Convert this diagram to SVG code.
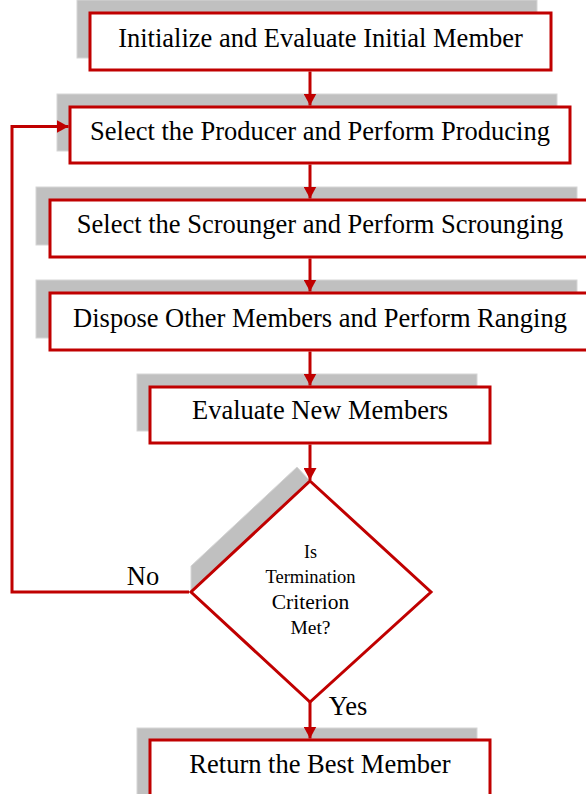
<svg xmlns="http://www.w3.org/2000/svg" width="586" height="794" viewBox="0 0 586 794">
<style>
.sh{fill:#c0c0c0;stroke:#d6d6d6;stroke-width:1}
.bx{fill:#ffffff;stroke:#c00000;stroke-width:3}
.ln{fill:none;stroke:#c00000;stroke-width:3}
.t{font-family:"Liberation Serif","Times New Roman",serif;font-size:26.5px;fill:#000;text-anchor:middle}
.d{font-family:"Liberation Serif","Times New Roman",serif;fill:#000;text-anchor:middle}
</style>
<defs>
<marker id="ah" viewBox="0 0 12 13" markerWidth="12" markerHeight="13" markerUnits="userSpaceOnUse" refX="12" refY="6.5" orient="auto">
<path d="M0,0 L12,6.5 L0,13 z" fill="#c00000"/>
</marker>
</defs>
<rect width="586" height="794" fill="#ffffff"/>
<g id="n1">
<rect class="sh" x="77" y="0" width="460" height="58"/>
<rect class="bx" x="90" y="13" width="461" height="57"/>
<text class="t" x="320.5" y="47">Initialize and Evaluate Initial Member</text>
</g>
<g id="n2">
<rect class="sh" x="57" y="94" width="500" height="57"/>
<rect class="bx" x="70" y="107" width="500" height="56"/>
<text class="t" x="320" y="140">Select the Producer and Perform Producing</text>
</g>
<g id="n3">
<rect class="sh" x="36" y="187" width="541" height="58"/>
<rect class="bx" x="50" y="200" width="540" height="57"/>
<text class="t" x="320" y="233">Select the Scrounger and Perform Scrounging</text>
</g>
<g id="n4">
<rect class="sh" x="36" y="280" width="541" height="58"/>
<rect class="bx" x="50" y="293" width="540" height="57"/>
<text class="t" x="320" y="327">Dispose Other Members and Perform Ranging</text>
</g>
<g id="n5">
<rect class="sh" x="137" y="374" width="340" height="57"/>
<rect class="bx" x="150" y="387" width="340" height="56"/>
<text class="t" x="320" y="419">Evaluate New Members</text>
</g>
<g id="n6">
<polygon class="sh" points="191,566 297,467 310,481 191,592"/>
<polygon class="bx" points="310,481 431,592 310,702 191,592"/>
<text class="d" x="310.5" y="558" font-size="18">Is</text>
<text class="d" x="310.5" y="583" font-size="18.5">Termination</text>
<text class="d" x="310.5" y="609" font-size="21.5">Criterion</text>
<text class="d" x="310.5" y="634" font-size="19.5">Met?</text>
</g>
<g id="n7">
<rect class="sh" x="137" y="728" width="340" height="70"/>
<rect class="bx" x="150" y="740" width="340" height="60"/>
<text class="t" x="320" y="773">Return the Best Member</text>
</g>
<g id="connectors">
<line class="ln" x1="310" y1="71.5" x2="310" y2="105.5" marker-end="url(#ah)"/>
<line class="ln" x1="310" y1="164.5" x2="310" y2="198.5" marker-end="url(#ah)"/>
<line class="ln" x1="310" y1="258.5" x2="310" y2="291.5" marker-end="url(#ah)"/>
<line class="ln" x1="310" y1="351.5" x2="310" y2="385.5" marker-end="url(#ah)"/>
<line class="ln" x1="310" y1="444.5" x2="310" y2="480" marker-end="url(#ah)"/>
<line class="ln" x1="310" y1="702" x2="310" y2="738.5" marker-end="url(#ah)"/>
<polyline class="ln" points="189,592 12,592 12,126.5 68.5,126.5" marker-end="url(#ah)"/>
<text class="t" x="143" y="585" font-size="25">No</text>
<text class="t" x="348" y="715" font-size="25">Yes</text>
</g>
</svg>
